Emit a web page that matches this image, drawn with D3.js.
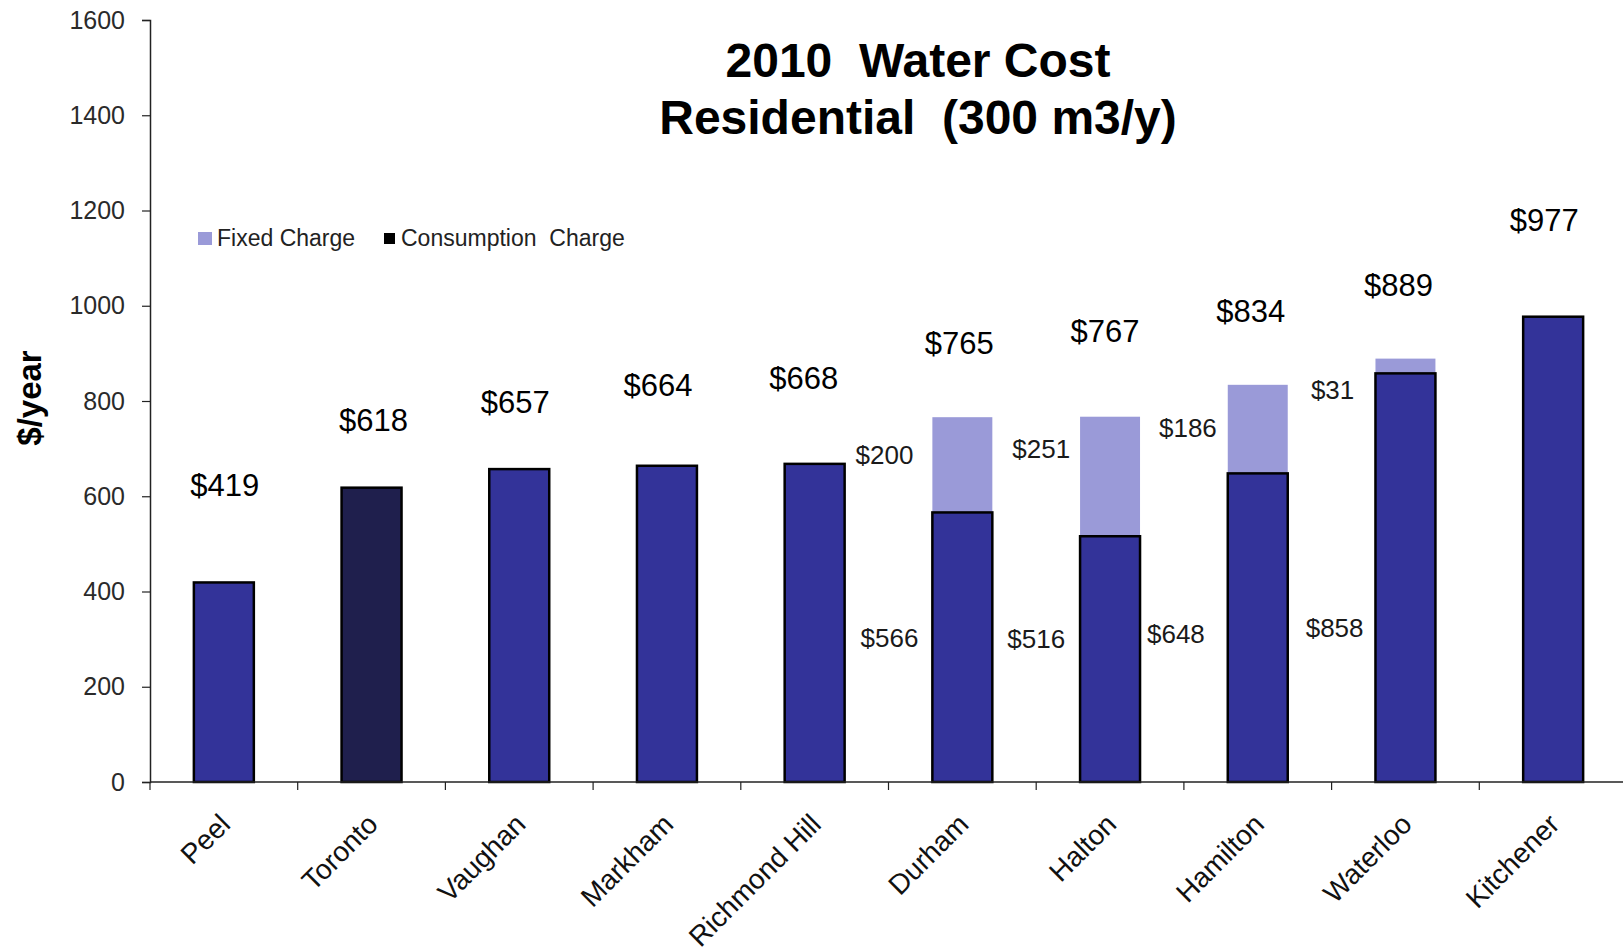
<!DOCTYPE html>
<html>
<head>
<meta charset="utf-8">
<script src="https://cdn.jsdelivr.net/npm/d3@7"></script>
<style>
  html, body { margin: 0; padding: 0; background: #fff; }
  svg { display: block; font-family: "Liberation Sans", Arial, sans-serif; }
  .pre { white-space: pre; }
</style>
</head>
<body>
<svg id="chart" width="1623" height="952"></svg>
<script>
// ---- data ----
const categories = ["Peel", "Toronto", "Vaughan", "Markham", "Richmond Hill",
                    "Durham", "Halton", "Hamilton", "Waterloo", "Kitchener"];
const consumptionCharge = [419, 618, 657, 664, 668, 566, 516, 648, 858, 977];
const fixedCharge       = [0, 0, 0, 0, 0, 200, 251, 186, 31, 0];
const totalCost         = [419, 618, 657, 664, 668, 765, 767, 834, 889, 977];
const yTicks = [0, 200, 400, 600, 800, 1000, 1200, 1400, 1600];
const titleLines = ["2010  Water Cost", "Residential  (300 m3/y)"];
const seriesNames = ["Fixed Charge", "Consumption  Charge"];
const highlighted = "Toronto";

// ---- layout ----
const axisX = 150, axisY = 782, topY = 20;
const bandW = 147.7;
const colors = { consumption: "#333399", highlight: "#1f1f4d", fixed: "#9a9ad8", edge: "#000" };

// hand-placed label nudges (pixels)
const totalLabelGap = [98, 68, 67, 81, 86, 74, 86, 74, 74, 97];
const totalLabelDx  = [1, 2, -4, -9, -11, -3, -5, -7, -7, -9];
const fixedLabelDy  = [0, 0, 0, 0, 0, -10, -28, -1, 24, 0];
const fixedLabelDx  = [0, 0, 0, 0, 0, -4, 5, 4, 1, 0];
const consLabelDy   = [0, 0, 0, 0, 0, -10, -20, 6, 50, 0];
const consLabelDx   = [0, 0, 0, 0, 0, 1, 0, -8, 3, 0];

const svg = d3.select("#chart");

const x = d3.scaleBand()
  .domain(categories)
  .range([axisX, axisX + bandW * categories.length])
  .paddingInner(0).paddingOuter(0);
const y = d3.scaleLinear().domain([0, 1600]).range([axisY, topY]);

const barW = x.bandwidth() * 0.406;
const rows = categories.map((c, i) => ({
  c, i, cons: consumptionCharge[i], fixed: fixedCharge[i], total: totalCost[i]
}));

// ---- title ----
svg.append("g").selectAll("text").data(titleLines).join("text")
  .attr("class", "pre")
  .attr("x", 918)
  .attr("y", (d, i) => i === 0 ? 77 : 134)
  .attr("text-anchor", "middle")
  .attr("font-size", 48).attr("font-weight", "bold").attr("fill", "#000")
  .text(d => d);

// ---- y axis ----
const yAxis = d3.axisLeft(y).tickValues(yTicks).tickSize(8).tickPadding(17).tickFormat(d3.format("d"));
const gy = svg.append("g").attr("transform", `translate(${axisX},0)`).call(yAxis);
gy.select(".domain").attr("stroke", "#222").attr("stroke-width", 1.5);
gy.selectAll(".tick line").attr("stroke", "#222").attr("stroke-width", 1.2);
gy.selectAll(".tick text").attr("font-size", 25).attr("fill", "#2a2a2a")
  .attr("font-family", "Liberation Sans, Arial, sans-serif");

svg.append("text")
  .attr("transform", `translate(29,398) rotate(-90)`)
  .attr("text-anchor", "middle").attr("dy", "0.35em")
  .attr("font-size", 33).attr("font-weight", "bold").attr("fill", "#000")
  .text("$/year");

// ---- bars ----
const bars = svg.append("g");
// fixed charge sits on top of consumption
bars.selectAll("rect.fixed").data(rows.filter(r => r.fixed > 0)).join("rect")
  .attr("class", "fixed")
  .attr("x", r => x(r.c) + (x.bandwidth() - barW) / 2)
  .attr("width", barW)
  .attr("y", r => y(r.cons + r.fixed))
  .attr("height", r => y(r.cons) - y(r.cons + r.fixed))
  .attr("fill", colors.fixed);

bars.selectAll("rect.cons").data(rows).join("rect")
  .attr("class", "cons")
  .attr("x", r => x(r.c) + (x.bandwidth() - barW) / 2)
  .attr("width", barW)
  .attr("y", r => y(r.cons))
  .attr("height", r => axisY - y(r.cons))
  .attr("fill", r => r.c === highlighted ? colors.highlight : colors.consumption)
  .attr("stroke", colors.edge).attr("stroke-width", 2.5);

// ---- x axis ----
const boundaries = categories.map(c => x(c)).concat([x.range()[1]]);
const gx = svg.append("g");
gx.append("line")
  .attr("x1", axisX).attr("x2", 1623).attr("y1", axisY).attr("y2", axisY)
  .attr("stroke", "#222").attr("stroke-width", 1.5);
gx.selectAll("line.tick").data(boundaries).join("line")
  .attr("class", "tick")
  .attr("x1", d => d).attr("x2", d => d)
  .attr("y1", axisY).attr("y2", axisY + 8)
  .attr("stroke", "#222").attr("stroke-width", 1.2);
gx.selectAll("text").data(categories).join("text")
  .attr("transform", c => `translate(${x(c) + x.bandwidth() / 2 + 8},${axisY + 44}) rotate(-45)`)
  .attr("text-anchor", "end")
  .attr("font-size", 28).attr("fill", "#111")
  .text(c => c);

// ---- value labels ----
const labels = svg.append("g");
labels.selectAll("text.total").data(rows).join("text")
  .attr("class", "total")
  .attr("x", r => x(r.c) + x.bandwidth() / 2 + totalLabelDx[r.i])
  .attr("y", r => y(r.cons + r.fixed) - totalLabelGap[r.i])
  .attr("dy", "0.36em")
  .attr("text-anchor", "middle")
  .attr("font-size", 31).attr("fill", "#000")
  .text(r => "$" + r.total);

const split = rows.filter(r => r.fixed > 0);
labels.selectAll("text.fixedLbl").data(split).join("text")
  .attr("class", "fixedLbl")
  .attr("x", r => x(r.c) + fixedLabelDx[r.i])
  .attr("y", r => y(r.cons + r.fixed / 2) + fixedLabelDy[r.i])
  .attr("dy", "0.36em")
  .attr("text-anchor", "middle")
  .attr("font-size", 26).attr("fill", "#1a1a1a")
  .text(r => "$" + r.fixed);
labels.selectAll("text.consLbl").data(split).join("text")
  .attr("class", "consLbl")
  .attr("x", r => x(r.c) + consLabelDx[r.i])
  .attr("y", r => y(r.cons / 2) + consLabelDy[r.i])
  .attr("dy", "0.36em")
  .attr("text-anchor", "middle")
  .attr("font-size", 26).attr("fill", "#1a1a1a")
  .text(r => "$" + r.cons);

// ---- legend ----
const legend = svg.append("g").attr("font-size", 23).attr("fill", "#222");
legend.append("rect").attr("x", 198).attr("y", 232).attr("width", 14).attr("height", 13)
  .attr("fill", colors.fixed);
legend.append("text").attr("x", 217).attr("y", 246).attr("fill", "#222").text(seriesNames[0]);
legend.append("rect").attr("x", 384).attr("y", 233).attr("width", 11).attr("height", 11)
  .attr("fill", "#000");
legend.append("text").attr("class", "pre").attr("x", 401).attr("y", 246).attr("fill", "#222")
  .text(seriesNames[1]);
</script>
</body>
</html>
